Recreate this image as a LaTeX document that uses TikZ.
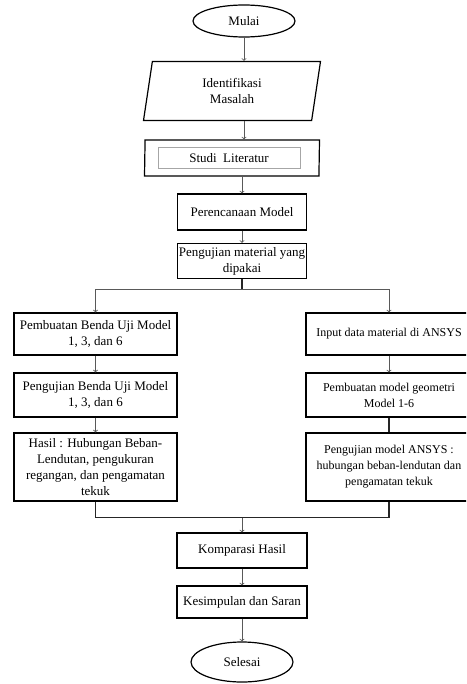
\documentclass[tikz,border=0pt]{standalone}
\usepackage{fontspec}
\setmainfont{Liberation Serif}
\usepackage{tikz}
\usetikzlibrary{shapes.geometric, arrows, positioning}
\tikzstyle{startstop} = [ellipse, minimum width=102pt, minimum height=32pt, inner sep=0pt, text centered, draw=black, line width=1.2pt]
\tikzstyle{io} = [trapezium, trapezium left angle=72, trapezium right angle=108, trapezium stretches body, minimum width=177pt, minimum height=59pt, inner sep=1pt, text centered, align=center, draw=black, line width=1.2pt]
\tikzstyle{process} = [rectangle, minimum width=129pt, minimum height=36pt, inner sep=1pt, text centered, align=center, draw=black, line width=1.2pt]
\tikzstyle{leftbox} = [process, minimum width=163pt]
\tikzstyle{rightbox} = [process, minimum width=166pt, font=\fontsize{12}{16}\selectfont]
\tikzstyle{arrow} = [->, >=to, line width=0.8pt, draw=black!65]
\tikzstyle{line} = [line width=1.2pt, draw=black!85]

\begin{document}
\begin{tikzpicture}[x=1pt, y=-1pt, on grid, font=\fontsize{13}{16}\selectfont]
  \useasboundingbox (0,0) rectangle (466,684);
  \clip (0,0) rectangle (466,684);

  \node (start) [startstop] at (244,21) {Mulai};
  \node (ident) [io, below left=70pt and 12pt of start] {Identifikasi\\Masalah};
  \node (studi) [io, below=67pt of ident, trapezium left angle=74, trapezium right angle=106, minimum width=175pt, minimum height=36pt] {};
  \node (studitext) [draw=black!35, line width=0.7pt, minimum width=142pt, minimum height=21pt, inner sep=0pt] at ([xshift=-3pt]studi.center) {Studi\ \ Literatur};
  \node (plan) [process, below right=54pt and 10pt of studi] {Perencanaan Model};
  \node (material) [process, below=49pt of plan, minimum height=35pt] {Pengujian material yang\\dipakai};

  % kiri: benda uji
  \node (buat) [leftbox, below left=73pt and 146.5pt of material, minimum height=42pt] {Pembuatan Benda Uji Model\\1, 3, dan 6};
  \node (uji) [leftbox, below=61pt of buat, minimum height=44pt] {Pengujian Benda Uji Model\\1, 3, dan 6};
  \node (hasil) [leftbox, below=72pt of uji, minimum height=68pt] {Hasil : Hubungan Beban-\\Lendutan, pengukuran\\regangan, dan pengamatan\\tekuk};

  % kanan: ANSYS
  \node (input) [rightbox, below right=73pt and 147pt of material, minimum height=42pt] {Input data material di ANSYS};
  \node (geom) [rightbox, below=61pt of input, minimum height=44pt] {Pembuatan model geometri\\Model 1-6};
  \node (ansys) [rightbox, below=72pt of geom, minimum height=68pt] {Pengujian model ANSYS :\\hubungan beban-lendutan dan\\pengamatan tekuk};

  \node (komparasi) [process, below right=83.5pt and 146.5pt of hasil, minimum width=130pt, minimum height=35pt] {Komparasi Hasil};
  \node (saran) [process, below=51.5pt of komparasi, minimum width=130pt, minimum height=32pt] {Kesimpulan dan Saran};
  \node (stop) [startstop, below=60pt of saran, minimum height=40pt] {Selesai};

  \draw[arrow] (start) -- (start |- ident.north);
  \draw[arrow] (start |- ident.south) -- (start |- studi.north);
  \draw[arrow] (plan |- studi.south) -- (plan);
  \draw[arrow] (plan) -- (material);
  \draw[line] (material.south) -- ++(0,10) coordinate (split);
  \draw[arrow] (split) -| (buat);
  \draw[arrow] (split) -| (input);
  \draw[arrow] (buat) -- (uji);
  \draw[arrow] (uji) -- (hasil);
  \draw[arrow] (input) -- (geom);
  \draw[line] (geom) -- (ansys);
  \draw[line] (hasil.south) -- ++(0,16) coordinate (join) -| (ansys.south);
  \draw[arrow] (join -| komparasi) -- (komparasi);
  \draw[arrow] (komparasi) -- (saran);
  \draw[arrow] (saran) -- (stop);
\end{tikzpicture}
\end{document}
